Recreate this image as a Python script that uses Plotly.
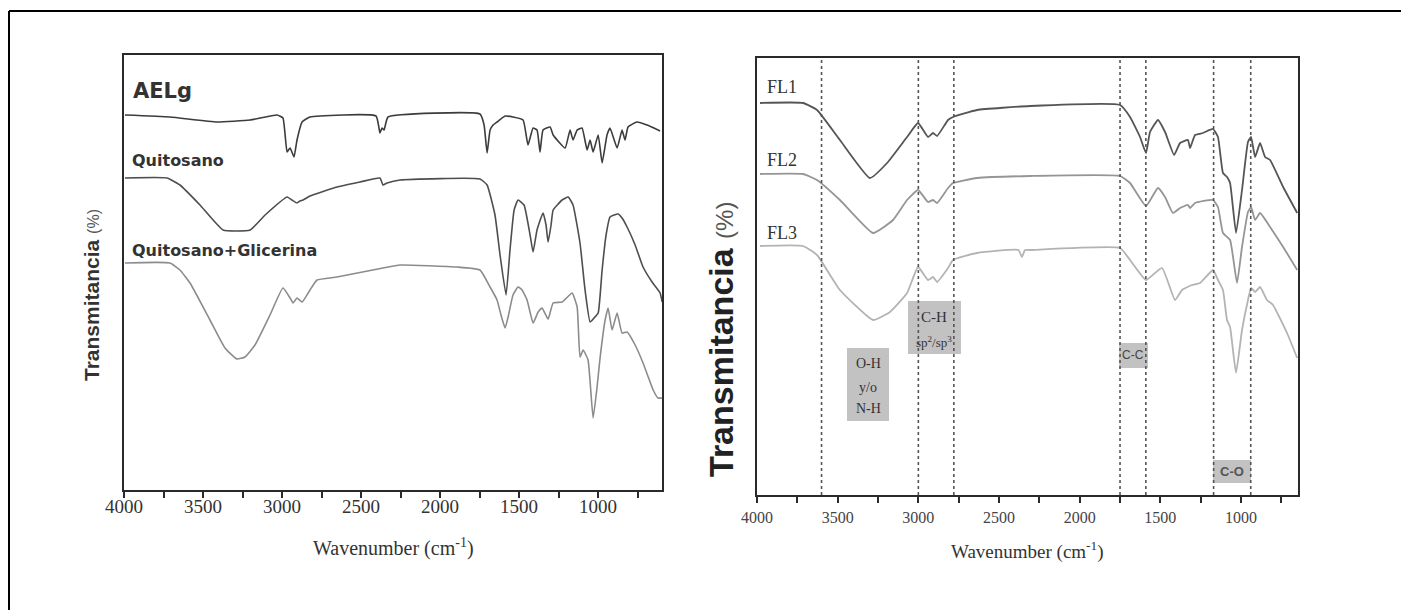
import plotly.graph_objects as go

W, H = 1401, 610

# ---------------- Left panel data (wavenumber, transmittance a.u.) ----------------
aelg_wn = [3994, 3709, 3411, 3202, 3031, 2994, 2968, 2949, 2924, 2905, 2873, 2823, 2405, 2380, 2367, 2354,
           2329, 1747, 1721, 1702, 1683, 1664, 1639, 1588, 1538, 1474, 1443, 1411, 1386, 1367, 1348, 1303,
           1284, 1208, 1177, 1158, 1132, 1101, 1069, 1050, 1031, 999, 974, 943, 924, 879, 848, 829, 810,
           753, 690, 607]
aelg_t = [375, 373, 368, 370, 375, 372, 338, 342, 333, 350, 368, 373, 374, 357, 362, 360, 373, 376, 365, 337,
          360, 365, 368, 374, 373, 370, 345, 362, 360, 338, 360, 363, 355, 342, 360, 350, 360, 362, 340, 350,
          338, 355, 327, 355, 362, 342, 360, 350, 363, 368, 365, 359]

quit_wn = [3994, 3728, 3646, 3519, 3373, 3202, 3107, 2968, 2937, 2905, 2886, 2867, 2823, 2652, 2506, 2380,
           2361, 2335, 2253, 1747, 1702, 1652, 1620, 1582, 1557, 1531, 1506, 1468, 1430, 1411, 1386, 1348,
           1329, 1316, 1297, 1284, 1227, 1189, 1158, 1114, 1082, 1050, 1025, 999, 974, 949, 924, 898, 873,
           848, 816, 765, 715, 658, 607, 594]
quit_t = [312, 312, 305, 285, 260, 260, 275, 293, 290, 287, 289, 290, 294, 303, 308, 312, 305, 307, 310, 311,
          305, 275, 235, 195, 240, 280, 290, 285, 255, 238, 260, 277, 265, 248, 265, 280, 290, 293, 285, 247,
          200, 168, 172, 177, 220, 255, 273, 275, 276, 272, 263, 245, 223, 208, 197, 188]

glic_wn = [3994, 3709, 3646, 3582, 3456, 3361, 3285, 3234, 3171, 3076, 2994, 2949, 2930, 2905, 2873, 2823,
           2778, 2652, 2361, 2253, 1892, 1747, 1683, 1639, 1614, 1588, 1569, 1538, 1506, 1481, 1449, 1411,
           1379, 1354, 1316, 1284, 1227, 1164, 1132, 1114, 1094, 1063, 1031, 1006, 987, 955, 936, 911, 879,
           848, 816, 765, 715, 651, 620, 594]
glic_t = [227, 227, 220, 207, 170, 142, 131, 133, 145, 175, 202, 192, 187, 192, 188, 200, 210, 213, 222, 225,
          223, 220, 203, 190, 175, 162, 173, 195, 203, 200, 190, 167, 178, 182, 171, 187, 188, 197, 183, 133,
          140, 130, 72, 103, 132, 170, 182, 160, 177, 157, 158, 145, 127, 100, 92, 92]

left_names = ["AELg", "Quitosano", "Quitosano+Glicerina"]

# ---------------- Right panel data ----------------
fl1_wn = [3981, 3715, 3628, 3486, 3300, 3194, 3070, 3002, 2940, 2909, 2884, 2816, 2785, 2636, 2308, 1750,
          1688, 1626, 1589, 1564, 1515, 1471, 1415, 1378, 1329, 1316, 1285, 1236, 1174, 1143, 1112, 1087,
          1068, 1031, 994, 957, 938, 913, 882, 851, 820, 739, 652]
fl1_t = [392, 392, 385, 355, 317, 332, 358, 372, 358, 362, 359, 375, 378, 385, 389, 390, 378, 358, 342, 363,
         375, 363, 340, 352, 355, 347, 360, 362, 366, 358, 322, 318, 312, 262, 305, 353, 358, 338, 352, 338,
         335, 308, 282]

fl2_wn = [3981, 3715, 3628, 3486, 3281, 3157, 3070, 3002, 2940, 2909, 2884, 2816, 2785, 2636, 2308, 1750,
          1688, 1589, 1515, 1471, 1422, 1378, 1329, 1316, 1285, 1174, 1143, 1112, 1068, 1025, 994, 957,
          938, 913, 882, 820, 739, 652]
fl2_t = [321, 321, 315, 295, 262, 275, 295, 305, 293, 295, 292, 307, 312, 317, 319, 319, 312, 289, 307, 298,
         282, 287, 290, 287, 292, 295, 288, 262, 255, 212, 248, 283, 288, 275, 282, 268, 248, 225]

fl3_wn = [3981, 3715, 3628, 3486, 3281, 3176, 3070, 3002, 2940, 2909, 2884, 2816, 2785, 2636, 2380, 2358,
          2339, 2308, 1750, 1688, 1589, 1490, 1409, 1366, 1304, 1254, 1174, 1143, 1112, 1087, 1068, 1031,
          994, 957, 938, 913, 882, 839, 802, 715, 652]
fl3_t = [249, 249, 240, 205, 175, 183, 202, 228, 215, 218, 213, 227, 235, 242, 245, 238, 245, 245, 247, 235,
         215, 227, 195, 205, 210, 212, 225, 215, 205, 175, 168, 122, 165, 195, 207, 203, 208, 195, 190, 162,
         137]

right_names = ["FL1", "FL2", "FL3"]

# vertical reference lines (cm-1)
ref_lines = [3600, 3000, 2780, 1750, 1590, 1170, 940]

# band boxes: (x0, x1, y0, y1)
band_boxes = [(3442, 3182, 74, 147), (3064, 2736, 141, 194), (1756, 1577, 127, 152), (1174, 938, 12, 35)]

tick_vals = [4000, 3500, 3000, 2500, 2000, 1500, 1000]
tick_text = ["4000", "3500", "3000", "2500", "2000", "1500", "1000"]

fig = go.Figure()

left_colors = ["#3c3c3c", "#4e4e4e", "#8c8c8c"]
for name, xs, ys, c in zip(left_names, [aelg_wn, quit_wn, glic_wn], [aelg_t, quit_t, glic_t], left_colors):
    fig.add_trace(go.Scatter(x=xs, y=ys, mode="lines", name=name,
                             line=dict(color=c, width=1.6, shape="spline", smoothing=0.4),
                             xaxis="x", yaxis="y", showlegend=False))

right_colors = ["#555555", "#959595", "#b3b3b3"]
for name, xs, ys, c in zip(right_names, [fl1_wn, fl2_wn, fl3_wn], [fl1_t, fl2_t, fl3_t], right_colors):
    fig.add_trace(go.Scatter(x=xs, y=ys, mode="lines", name=name,
                             line=dict(color=c, width=1.8, shape="spline", smoothing=0.4),
                             xaxis="x2", yaxis="y2", showlegend=False))


def xpx(p):
    return p / W


def ypx(p):
    return (H - p) / H


axis_common = dict(showline=True, linecolor="#2a2a2a", linewidth=2, mirror=True, showgrid=False,
                   zeroline=False, automargin=False)
tick_common = dict(tickvals=tick_vals, ticktext=tick_text, ticks="outside", ticklen=6, tickwidth=2,
                   tickcolor="#2a2a2a",
                   minor=dict(dtick=250, tick0=0, ticks="outside", ticklen=6, tickwidth=2, tickcolor="#2a2a2a"))

fig.update_layout(
    width=W, height=H, autosize=False,
    margin=dict(l=0, r=0, t=0, b=0, pad=0),
    paper_bgcolor="white", plot_bgcolor="white",
    xaxis=dict(domain=[xpx(124), xpx(662)], range=[4000, 595], anchor="y", ticklabelstandoff=-8,
               tickfont=dict(family="Liberation Serif", size=19, color="#333333"), **tick_common, **axis_common),
    yaxis=dict(domain=[ypx(490), ypx(55)], range=[0, 435], anchor="x", showticklabels=False, ticks="",
               **axis_common),
    xaxis2=dict(domain=[xpx(757), xpx(1298)], range=[4000, 647], anchor="y2", ticklabelstandoff=1,
                tickfont=dict(family="Liberation Serif", size=16, color="#444444"), **tick_common, **axis_common),
    yaxis2=dict(domain=[ypx(495), ypx(58)], range=[0, 437], anchor="x2", showticklabels=False, ticks="",
                **axis_common),
)

shapes = []
# outer frame (left and top edges visible)
shapes.append(dict(type="line", xref="paper", yref="paper", x0=xpx(9), x1=xpx(9), y0=ypx(11), y1=-0.05,
                   line=dict(color="black", width=2)))
shapes.append(dict(type="line", xref="paper", yref="paper", x0=xpx(9), x1=1.05, y0=ypx(11), y1=ypx(11),
                   line=dict(color="black", width=2)))
for (x0, x1, y0, y1) in band_boxes:
    shapes.append(dict(type="rect", xref="x2", yref="y2", x0=x0, x1=x1, y0=y0, y1=y1,
                       fillcolor="#c2c2c2", line=dict(width=0), layer="below"))
for xv in ref_lines:
    shapes.append(dict(type="line", xref="x2", yref="y2 domain", x0=xv, x1=xv, y0=0, y1=1,
                       line=dict(color="#555555", width=1.6, dash="dot")))
fig.update_layout(shapes=shapes)

ann = []
lab_font = dict(family="DejaVu Sans", color="#333333")
ann.append(dict(x=3956, y=399, xref="x", yref="y", text="<b>AELg</b>", showarrow=False,
                xanchor="left", yanchor="middle", font=dict(size=21, **lab_font)))
ann.append(dict(x=3962, y=330, xref="x", yref="y", text="<b>Quitosano</b>", showarrow=False,
                xanchor="left", yanchor="middle", font=dict(size=16, **lab_font)))
ann.append(dict(x=3962, y=240, xref="x", yref="y", text="<b>Quitosano+Glicerina</b>", showarrow=False,
                xanchor="left", yanchor="middle", font=dict(size=16, **lab_font)))
for name, yv in zip(right_names, [408, 335, 262]):
    ann.append(dict(x=3950, y=yv, xref="x2", yref="y2", text=name, showarrow=False, xanchor="left",
                    yanchor="middle", font=dict(family="Liberation Serif", size=18, color="#333333")))
box_font = dict(family="Liberation Serif", size=14, color="#333333")
for t, yv in zip(["O-H", "y/o", "N-H"], [132, 108, 87]):
    ann.append(dict(x=3312, y=yv, xref="x2", yref="y2", text=t, showarrow=False, xanchor="center",
                    yanchor="middle", font=box_font))
ann.append(dict(x=2900, y=178, xref="x2", yref="y2", text="C-H", showarrow=False, xanchor="center",
                yanchor="middle", font=dict(family="Liberation Serif", size=15, color="#333333")))
ann.append(dict(x=2900, y=153, xref="x2", yref="y2", text="sp<sup>2</sup>/sp<sup>3</sup>", showarrow=False,
                xanchor="center", yanchor="middle",
                font=dict(family="Liberation Serif", size=13, color="#333333")))
ann.append(dict(x=1667, y=140, xref="x2", yref="y2", text="C-C", showarrow=False, xanchor="center",
                yanchor="middle", font=dict(family="Liberation Sans", size=12, color="#444444")))
ann.append(dict(x=1056, y=24, xref="x2", yref="y2", text="<b>C-O</b>", showarrow=False, xanchor="center",
                yanchor="middle", font=dict(family="Liberation Sans", size=13, color="#555555")))
# axis titles
ann.append(dict(x=xpx(91), y=ypx(295), xref="paper", yref="paper", textangle=-90, showarrow=False,
                xanchor="center", yanchor="middle",
                text="<b>Transmitancia</b> <span style='font-size:16px;color:#555'>(%)</span>",
                font=dict(family="Liberation Sans", size=21, color="#333333")))
ann.append(dict(x=xpx(721), y=ypx(340), xref="paper", yref="paper", textangle=-90, showarrow=False,
                xanchor="center", yanchor="middle",
                text="<b>Transmitancia</b> <span style='font-size:24px;color:#555'>(%)</span>",
                font=dict(family="Liberation Sans", size=34, color="#222222")))
ann.append(dict(x=xpx(393), y=ypx(547), xref="paper", yref="paper", showarrow=False,
                xanchor="center", yanchor="middle",
                text="Wavenumber (cm<sup>-1</sup>)", font=dict(family="Liberation Serif", size=20, color="#333333")))
ann.append(dict(x=xpx(1027), y=ypx(550), xref="paper", yref="paper", showarrow=False,
                xanchor="center", yanchor="middle",
                text="Wavenumber (cm<sup>-1</sup>)", font=dict(family="Liberation Serif", size=19, color="#333333")))
fig.update_layout(annotations=ann)

fig.write_html("out.html", config={"displayModeBar": False},
               post_script="document.body.style.margin='0';document.body.style.overflow='hidden';")
